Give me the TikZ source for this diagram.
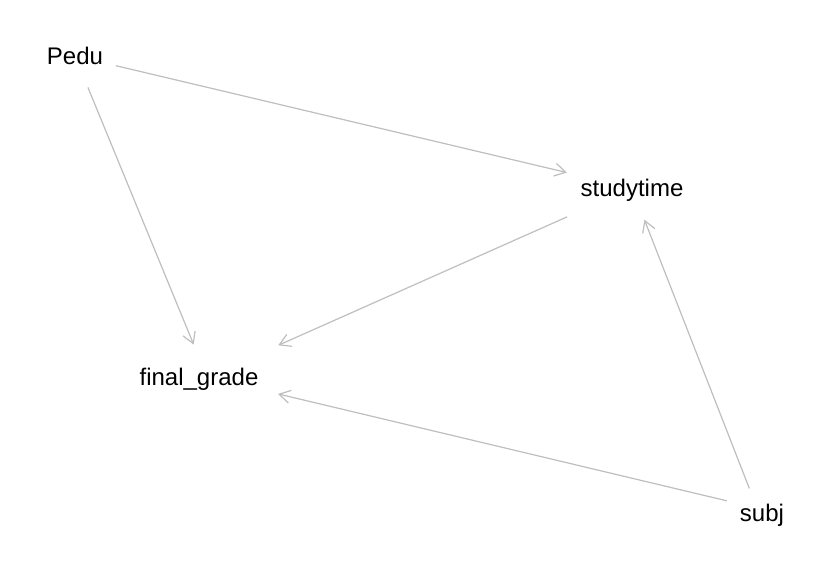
\documentclass[tikz,border=0pt]{standalone}
\usepackage{fontspec}
\setmainfont{Liberation Sans}
\usetikzlibrary{arrows.meta}
\definecolor{edgegray}{RGB}{190,190,190}
\begin{document}
\begin{tikzpicture}[x=1pt,y=-1pt,
  lbl/.style={inner sep=0pt, text height=17pt, text depth=0pt, font=\fontsize{24}{28}\selectfont, text=black},
  edge/.style={draw=edgegray, line width=1.2pt, -{Straight Barb[length=11pt,width=13pt]}}]
\useasboundingbox (0,0) rectangle (823,569);
\node[lbl] (P) at (75,56) {Pedu};
\node[lbl] (S) at (632,188) {studytime};
\node[lbl] (F) at (199,377) {final\_grade};
\node[lbl] (J) at (762,513) {subj};
\draw[edge, shorten <=42pt, shorten >=67pt] (P.center) -- (S.center);
\draw[edge, shorten <=34pt, shorten >=35pt] (P.center) -- ([xshift=8pt]F.center);
\draw[edge, shorten <=71pt, shorten >=78pt] (S.center) -- ([xshift=8pt]F.center);
\draw[edge, shorten <=21pt, shorten >=34pt] ([xshift=-5pt,yshift=5pt]J.center) -- (S.center);
\draw[edge, shorten <=31pt, shorten >=73pt] ([xshift=-5pt,yshift=5pt]J.center) -- ([xshift=8pt]F.center);
\end{tikzpicture}
\end{document}
